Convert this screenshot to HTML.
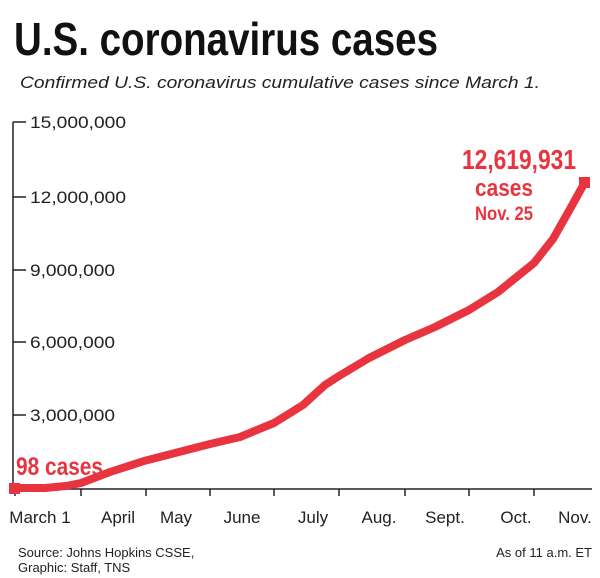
<!DOCTYPE html>
<html><head><meta charset="utf-8"><style>body{margin:0;background:#fff}svg{display:block}</style></head><body>
<svg width="600" height="578" xmlns="http://www.w3.org/2000/svg" font-family="Liberation Sans, sans-serif">
<rect width="600" height="578" fill="#fff"/>
<text x="14" y="55" font-size="46" font-weight="bold" textLength="424" lengthAdjust="spacingAndGlyphs" fill="#111">U.S. coronavirus cases</text>
<text x="20" y="88" font-size="17" font-style="italic" textLength="520" lengthAdjust="spacingAndGlyphs" fill="#222">Confirmed U.S. coronavirus cumulative cases since March 1.</text>
<g stroke="#222" stroke-width="1.5" fill="none">
<line x1="13" y1="122" x2="13" y2="489"/>
<line x1="13" y1="489" x2="592" y2="489"/>
<line x1="13" y1="122" x2="26" y2="122"/><line x1="13" y1="197" x2="26" y2="197"/><line x1="13" y1="270" x2="26" y2="270"/><line x1="13" y1="342" x2="26" y2="342"/><line x1="13" y1="415" x2="26" y2="415"/>
<line x1="15" y1="489" x2="15" y2="496"/><line x1="81" y1="489" x2="81" y2="496"/><line x1="146" y1="489" x2="146" y2="496"/><line x1="210" y1="489" x2="210" y2="496"/><line x1="274" y1="489" x2="274" y2="496"/><line x1="339" y1="489" x2="339" y2="496"/><line x1="405" y1="489" x2="405" y2="496"/><line x1="469" y1="489" x2="469" y2="496"/><line x1="534" y1="489" x2="534" y2="496"/>
</g>
<g font-size="17" fill="#222">
<text x="30" y="128" textLength="96" lengthAdjust="spacingAndGlyphs">15,000,000</text>
<text x="30" y="203" textLength="96" lengthAdjust="spacingAndGlyphs">12,000,000</text>
<text x="30" y="276" textLength="85" lengthAdjust="spacingAndGlyphs">9,000,000</text>
<text x="30" y="348" textLength="85" lengthAdjust="spacingAndGlyphs">6,000,000</text>
<text x="30" y="421" textLength="85" lengthAdjust="spacingAndGlyphs">3,000,000</text>
<g text-anchor="middle">
<text x="40" y="523">March 1</text><text x="118" y="523">April</text><text x="176" y="523">May</text><text x="242" y="523">June</text><text x="313" y="523">July</text><text x="379" y="523">Aug.</text><text x="445" y="523">Sept.</text><text x="516" y="523">Oct.</text><text x="575" y="523">Nov.</text>
</g></g>
<polyline fill="none" stroke="#e8343f" stroke-width="8" stroke-linejoin="round" stroke-linecap="round" points="15,488 45,488 66,486 81,483 110,472 144,461 210,444 240,437 274,423 303,405 325,385 339,376 369,358 405,340 435,327 469,310 498,292 534,263 553,239 570,209 585,182"/>
<rect x="9" y="483" width="11" height="11" fill="#e8343f"/>
<rect x="579" y="177" width="11" height="11" fill="#e8343f"/>
<g fill="#e8343f" font-weight="bold">
<text x="16" y="475" font-size="25" textLength="87" lengthAdjust="spacingAndGlyphs">98 cases</text>
<text x="462" y="169" font-size="28" textLength="114" lengthAdjust="spacingAndGlyphs">12,619,931</text>
<text x="475" y="196" font-size="24" textLength="58" lengthAdjust="spacingAndGlyphs">cases</text>
<text x="475" y="220" font-size="19" textLength="58" lengthAdjust="spacingAndGlyphs">Nov. 25</text>
</g>
<g font-size="13" fill="#222">
<text x="18" y="557">Source: Johns Hopkins CSSE,</text>
<text x="18" y="572">Graphic: Staff, TNS</text>
<text x="592" y="557" text-anchor="end">As of 11 a.m. ET</text>
</g>
</svg>
</body></html>
